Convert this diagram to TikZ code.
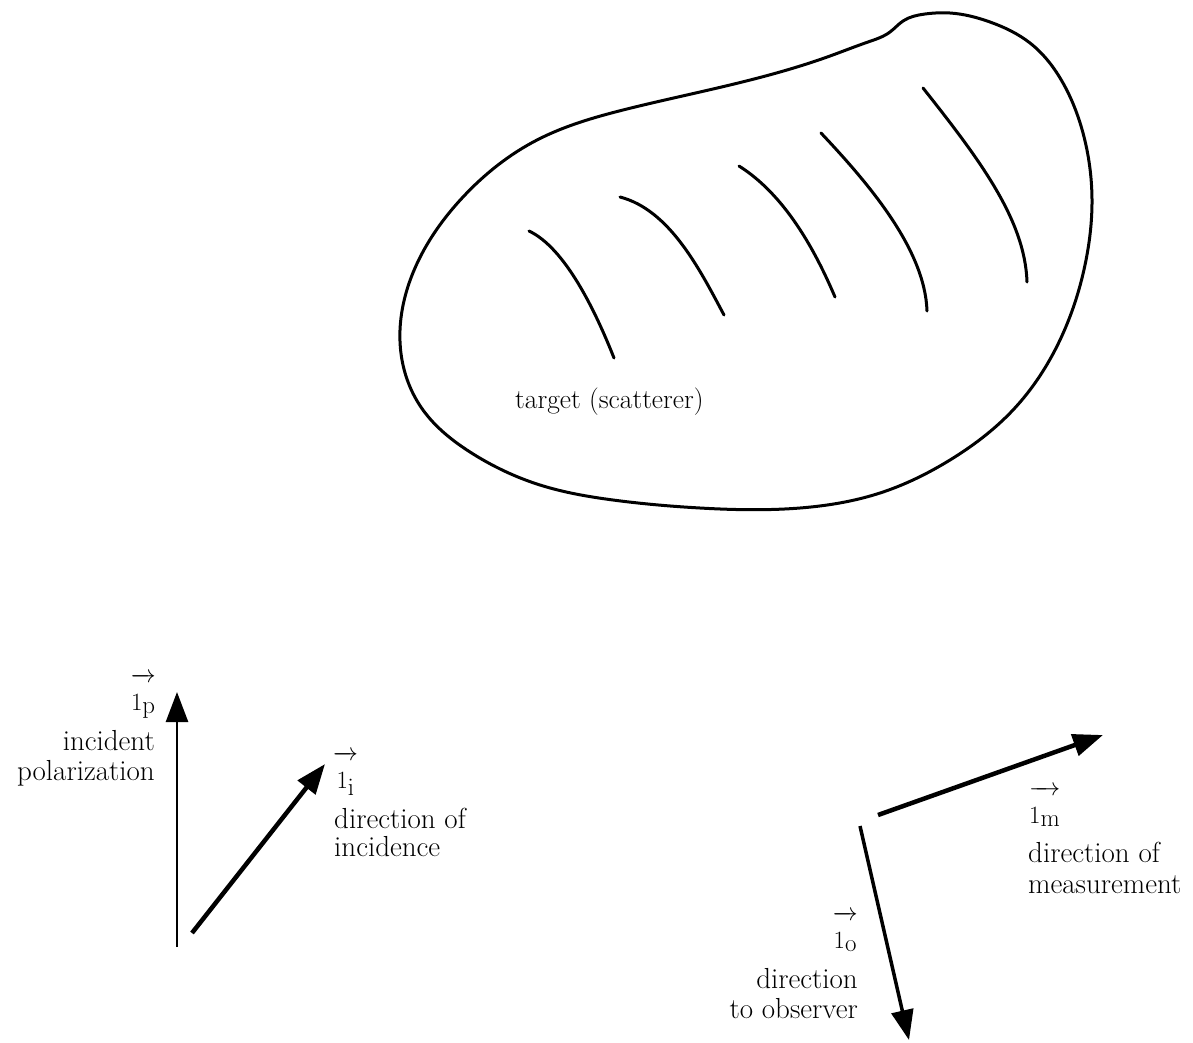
\documentclass[tikz,border=0pt]{standalone}
\usetikzlibrary{arrows.meta,hobby}
\newcommand{\unitvec}[1]{\ensuremath{\overrightarrow{\rule{0pt}{1.0em}1_{\textstyle\mathrm{#1}}}}}
\tikzset{
  outline/.style={line width=3pt, line join=round, line cap=round},
  hatch/.style={line width=3pt, line cap=round},
  thinvec/.style={line width=2.6pt, -{Triangle[length=30pt,width=22pt]}},
  thickvec/.style={line width=4.5pt, -{Triangle[length=30pt,width=22pt]}},
  lab/.style={inner sep=0pt, font=\fontsize{29}{33}\selectfont},
  tlab/.style={inner sep=0pt, font=\fontsize{27.5}{31}\selectfont}
}
\begin{document}
\begin{tikzpicture}[x=1pt,y=-1pt]
\useasboundingbox (0,0) rectangle (1193,1042);
% target outline
\draw[outline, closed hobby] plot coordinates {
 (400,330) (415,268) (463,197) (537,140) (623,110) (700,92) (780,72)
 (830,56) (868,42) (890,32) (903,21) (925,14) (950,13) (990,22) (1030,43)
 (1063,83) (1083,133) (1092,200) (1085,265) (1060,340) (1013,410) (950,460)
 (880,493) (800,508) (700,508) (613,500) (540,485) (470,452) (423,410) (403,365)};
% hatch strokes
\draw[hatch] (529,231) .. controls (565,248) and (595,310) .. (614,358);
\draw[hatch] (620,197) .. controls (670,210) and (700,270) .. (724,315);
\draw[hatch] (739,166) .. controls (785,195) and (815,250) .. (835,297);
\draw[hatch] (821,133) .. controls (870,185) and (925,250) .. (927,311);
\draw[hatch] (923,88) .. controls (980,160) and (1025,220) .. (1027,282);
\node[tlab, anchor=base west] (target) at (515,408) {target (scatterer)};
% vectors
\coordinate (p0) at (177,947);
\coordinate (p1) at (177,692);
\coordinate (i0) at (192,933);
\coordinate (i1) at (325,764);
\coordinate (m0) at (878,815);
\coordinate (m1) at (1103,735);
\coordinate (o0) at (860,826);
\coordinate (o1) at (909,1040);
\draw[thinvec] (p0) -- (p1);
\draw[thickvec] (i0) -- (i1);
\draw[thickvec] (m0) -- (m1);
\draw[thickvec, line width=3.5pt] (o0) -- (o1);
% labels
\node[lab, anchor=base east] (lp) at (156,710) {\unitvec{p}};
\node[lab, anchor=base east] (lp1) at (155,750) {incident};
\node[lab, anchor=base east] (lp2) at (155,780) {polarization};
\node[lab, anchor=base west] (li) at (333,788) {\unitvec{i}};
\node[lab, anchor=base west] (li1) at (334,828) {direction of};
\node[lab, anchor=base west] (li2) at (334,856) {incidence};
\node[lab, anchor=base west] (lm) at (1029,823) {\unitvec{m}};
\node[lab, anchor=base west] (lm1) at (1028,862) {direction of};
\node[lab, anchor=base west] (lm2) at (1028,893) {measurement};
\node[lab, anchor=base east] (lo) at (858,948) {\unitvec{o}};
\node[lab, anchor=base east] (lo1) at (858,988) {direction};
\node[lab, anchor=base east] (lo2) at (858,1018) {to observer};
\end{tikzpicture}
\end{document}
